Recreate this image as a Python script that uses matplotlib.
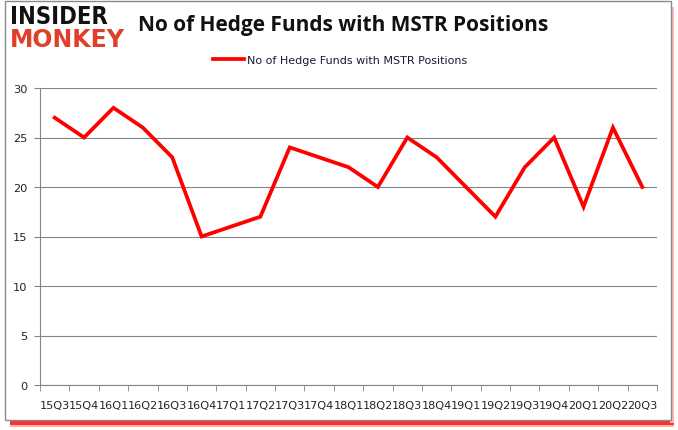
import matplotlib
matplotlib.use("Agg")
import matplotlib.pyplot as plt
from matplotlib.patches import Rectangle

categories = ["15Q3", "15Q4", "16Q1", "16Q2", "16Q3", "16Q4", "17Q1", "17Q2", "17Q3",
              "17Q4", "18Q1", "18Q2", "18Q3", "18Q4", "19Q1", "19Q2", "19Q3", "19Q4",
              "20Q1", "20Q2", "20Q3"]
values = [27, 25, 28, 26, 23, 15, 16, 17, 24, 23, 22, 20, 25, 23, 20, 17, 22, 25, 18, 26, 20]
yticks = [0, 5, 10, 15, 20, 25, 30]
title = "No of Hedge Funds with MSTR Positions"
series_name = "No of Hedge Funds with MSTR Positions"

W, H = 678, 431
fig = plt.figure(figsize=(W / 100, H / 100), dpi=100)

def fx(px):
    return px / W

def fy(py):
    return 1 - py / H

# shadow: thick red at bottom, thin pink on the right
fig.patches.append(Rectangle((fx(10), fy(426)), fx(664), 6 / H, transform=fig.transFigure,
                             facecolor="#ff3030", edgecolor="none", zorder=0))
fig.patches.append(Rectangle((fx(10), fy(428)), fx(664), 2 / H, transform=fig.transFigure,
                             facecolor="#ffb0b0", edgecolor="none", zorder=0))
fig.patches.append(Rectangle((fx(670), fy(424)), fx(4), (424 - 8) / H, transform=fig.transFigure,
                             facecolor="#ffb8b8", edgecolor="none", zorder=0))
fig.patches.append(Rectangle((fx(5), fy(421)), fx(666), (421 - 2) / H, transform=fig.transFigure,
                             facecolor="white", edgecolor="#8a8a8a", linewidth=1.0, zorder=1))

ax = fig.add_axes([fx(40), fy(386), fx(657) - fx(40), (386 - 89) / H])
ax.set_zorder(2)
ax.patch.set_alpha(0)
x = list(range(len(categories)))
ax.plot(x, values, color="#ff0000", linewidth=2.7, solid_joinstyle="miter",
        label=series_name, zorder=3)
ax.set_xlim(-0.5, len(categories) - 0.5)
ax.set_ylim(0, 30)
ax.set_yticks(yticks)
ax.set_yticklabels([str(v) for v in yticks], fontsize=8.2, color="#222222")
ax.set_xticks(x)
ax.set_xticklabels(categories, fontsize=8.1, color="#222222")
ax.set_xticks([i - 0.5 for i in range(len(categories) + 1)], minor=True)
ax.tick_params(axis="x", which="major", length=0, pad=11)
ax.tick_params(axis="x", which="minor", length=4, color="#868686", direction="out")
ax.tick_params(axis="y", length=4, color="#868686", direction="out", pad=5)
ax.grid(axis="y", color="#868686", linewidth=0.8)
ax.set_axisbelow(True)
for s in ["top", "right"]:
    ax.spines[s].set_visible(False)
for s in ["left", "bottom"]:
    ax.spines[s].set_color("#868686")
    ax.spines[s].set_linewidth(0.8)

leg = fig.legend(loc="center", bbox_to_anchor=(fx(340), fy(61)), frameon=False,
                 fontsize=8, handlelength=2.8, handletextpad=0.25)
for t in leg.get_texts():
    t.set_color("#1a1a3a")

fig.text(fx(138), fy(26), title, fontsize=15, fontweight="bold", color="#111111",
         va="center", ha="left", family="Open Sans")

fig.text(fx(10), fy(17), "INSIDER", fontsize=17, fontweight="heavy", color="#111111",
         va="center", ha="left", family="DejaVu Sans", stretch="condensed")
fig.text(fx(10), fy(40), "MONKEY", fontsize=17, fontweight="heavy", color="#e0402a",
         va="center", ha="left", family="DejaVu Sans")

fig.savefig("out.png", dpi=100)
